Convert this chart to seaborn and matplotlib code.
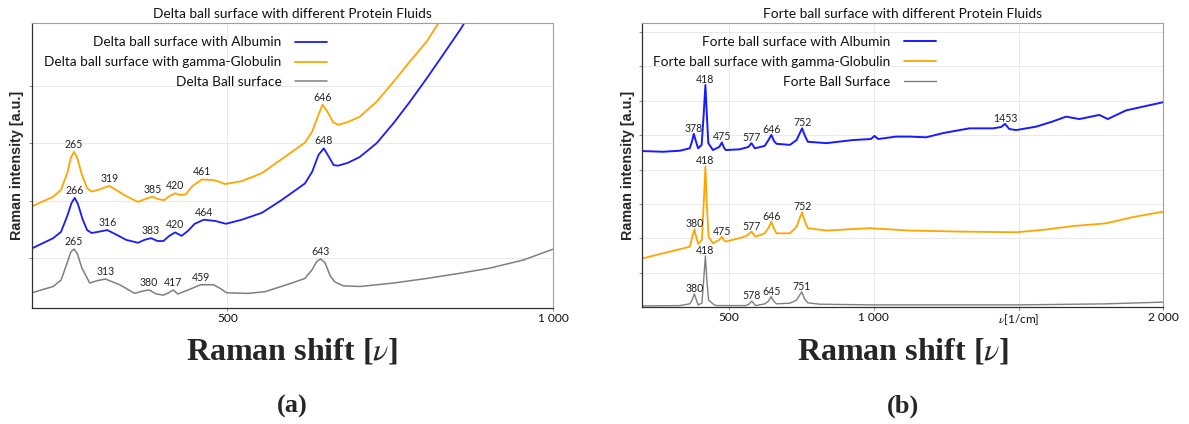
import numpy as np
import matplotlib
matplotlib.use("Agg")
import matplotlib.pyplot as plt
import seaborn as sns

# ---------------- Panel (a): Delta ball surface ----------------
delta_gg_x = [200, 233, 245, 255, 260, 265, 270, 277, 285, 292, 305, 319, 332, 345, 363, 374, 385, 394,
              403, 411, 420, 428, 436, 447, 461, 478, 488, 496, 522, 553, 583, 619, 630, 638, 646, 654,
              662, 670, 685, 703, 729, 755, 780, 806, 824, 840]
delta_gg_y = [1.90, 2.07, 2.19, 2.50, 2.75, 2.85, 2.74, 2.45, 2.22, 2.16, 2.20, 2.26, 2.17, 2.08, 1.98, 2.03,
              2.07, 2.03, 2.01, 2.08, 2.13, 2.10, 2.11, 2.26, 2.37, 2.36, 2.33, 2.29, 2.34, 2.48, 2.72, 3.01,
              3.20, 3.44, 3.67, 3.54, 3.37, 3.32, 3.37, 3.46, 3.72, 4.07, 4.42, 4.77, 5.09, 5.42]

delta_alb_x = [200, 233, 245, 255, 261, 266, 271, 278, 285, 292, 302, 316, 330, 345, 363, 373, 383, 393,
               402, 411, 420, 430, 440, 450, 464, 481, 498, 522, 553, 583, 619, 630, 640, 648, 656, 663,
               670, 685, 703, 729, 755, 780, 806, 831, 857, 875]
delta_alb_y = [1.17, 1.35, 1.46, 1.75, 1.96, 2.05, 1.94, 1.68, 1.49, 1.44, 1.46, 1.49, 1.41, 1.32, 1.27, 1.32,
               1.35, 1.30, 1.30, 1.39, 1.45, 1.39, 1.48, 1.60, 1.67, 1.65, 1.60, 1.67, 1.79, 2.01, 2.30, 2.50,
               2.80, 2.91, 2.76, 2.62, 2.61, 2.66, 2.76, 3.00, 3.35, 3.72, 4.13, 4.54, 4.97, 5.30]

delta_bare_x = [200, 233, 245, 255, 260, 265, 270, 277, 289, 300, 313, 335, 358, 370, 380, 391, 402, 410,
                417, 424, 440, 459, 479, 490, 499, 532, 558, 599, 619, 630, 637, 643, 650, 658, 665, 678,
                704, 755, 806, 857, 903, 954, 1000]
delta_bare_y = [0.40, 0.51, 0.62, 0.94, 1.11, 1.16, 1.08, 0.83, 0.57, 0.61, 0.64, 0.54, 0.39, 0.43, 0.45, 0.38,
                0.36, 0.40, 0.45, 0.38, 0.45, 0.54, 0.54, 0.47, 0.40, 0.39, 0.42, 0.57, 0.65, 0.80, 0.94, 0.99,
                0.92, 0.69, 0.59, 0.52, 0.51, 0.57, 0.65, 0.74, 0.83, 0.97, 1.16]

delta_gg_peaks = [265, 319, 385, 420, 461, 646]
delta_alb_peaks = [266, 316, 383, 420, 464, 648]
delta_bare_peaks = [265, 313, 380, 417, 459, 643]

# ---------------- Panel (b): Forte ball surface ----------------
forte_alb_x = [200, 272, 330, 364, 371, 378, 386, 393, 405, 412, 418, 423, 428, 444, 466, 475, 481, 488,
               536, 567, 577, 589, 623, 636, 646, 655, 664, 710, 733, 743, 752, 762, 772, 836, 928, 990,
               1002, 1015, 1077, 1123, 1181, 1238, 1330, 1411, 1440, 1453, 1468, 1492, 1561, 1618, 1664,
               1710, 1779, 1808, 1871, 1940, 2000]
forte_alb_y = [4.54, 4.52, 4.55, 4.62, 4.80, 5.04, 4.80, 4.62, 4.72, 5.59, 6.46, 5.59, 4.77, 4.57, 4.66, 4.79,
               4.66, 4.57, 4.59, 4.66, 4.77, 4.62, 4.69, 4.86, 5.01, 4.83, 4.75, 4.72, 4.86, 5.04, 5.20, 4.98,
               4.81, 4.77, 4.86, 4.89, 4.98, 4.89, 4.96, 4.96, 4.94, 5.06, 5.20, 5.20, 5.24, 5.33, 5.18, 5.15,
               5.25, 5.40, 5.54, 5.47, 5.59, 5.47, 5.72, 5.85, 5.96]

forte_gg_x = [200, 272, 330, 364, 372, 380, 387, 393, 406, 412, 418, 423, 429, 444, 466, 475, 481, 488,
              536, 559, 577, 591, 623, 636, 646, 655, 664, 710, 733, 743, 752, 762, 772, 836, 985, 1123,
              1296, 1492, 1584, 1687, 1802, 1894, 2000]
forte_gg_y = [1.42, 1.57, 1.69, 1.76, 2.02, 2.27, 2.02, 1.84, 1.96, 2.97, 4.09, 2.97, 2.05, 1.86, 1.96, 2.05,
              1.96, 1.91, 2.01, 2.07, 2.20, 2.05, 2.15, 2.31, 2.49, 2.28, 2.15, 2.15, 2.34, 2.57, 2.76, 2.48,
              2.30, 2.23, 2.30, 2.23, 2.20, 2.18, 2.25, 2.36, 2.44, 2.62, 2.78]

forte_bare_x = [200, 330, 364, 372, 380, 387, 393, 406, 412, 418, 423, 429, 444, 455, 559, 570, 578, 586,
                591, 623, 636, 645, 654, 664, 710, 733, 742, 751, 761, 772, 813, 1000, 1500, 1800, 2000]
forte_bare_y = [0.04, 0.05, 0.10, 0.21, 0.39, 0.21, 0.07, 0.12, 0.79, 1.49, 0.79, 0.21, 0.10, 0.05, 0.05, 0.10,
                0.18, 0.10, 0.05, 0.10, 0.18, 0.31, 0.18, 0.10, 0.12, 0.21, 0.33, 0.45, 0.24, 0.13, 0.09, 0.07,
                0.07, 0.10, 0.15]

forte_alb_peaks = [378, 418, 475, 577, 646, 752, 1453]
forte_gg_peaks = [380, 418, 475, 577, 646, 752]
forte_bare_peaks = [380, 418, 578, 645, 751]

BLUE = "#1a1aff"
ORANGE = "#ffa500"
GRAY = "#7f7f7f"

sns.set_theme(style="whitegrid")
plt.rcParams["font.family"] = ["Lato", "DejaVu Sans"]
plt.rcParams["mathtext.fontset"] = "stix"

W, H = 1189, 424
fig = plt.figure(figsize=(W / 100, H / 100), dpi=100)
fig.patch.set_facecolor("white")


def px_axes(l, t, r, b):
    return fig.add_axes([l / W, 1 - b / H, (r - l) / W, (b - t) / H])


ax_a = px_axes(31.7, 23, 553.3, 308)
ax_b = px_axes(642.3, 22.7, 1163.3, 307.3)


def draw_panel(ax, series, title, xlim, ylim, yticks, xticks, xticklabels, leg_x, label_off):
    for x, y, color, label, peaks, w in series:
        sns.lineplot(x=x, y=y, ax=ax, color=color, label=label, linewidth=w, sort=False)
        for p in peaks:
            yy = np.interp(p, x, y)
            ax.annotate(str(p), xy=(p, yy), xytext=(0, label_off), textcoords="offset points",
                        ha="center", va="baseline", fontsize=7.6, color="#222222")
    ax.set_xlim(*xlim)
    ax.set_ylim(*ylim)
    ax.set_yticks(yticks)
    ax.set_yticklabels([])
    ax.set_xticks(xticks)
    ax.set_xticklabels(xticklabels, fontsize=8.6)
    ax.set_xlabel("")
    ax.set_ylabel("Raman intensity [a.u.]", family="Liberation Sans", fontweight="bold",
                  fontsize=10.4, labelpad=3)
    ax.set_title(title, fontsize=9.9, pad=3.5, color="#111111")
    ax.grid(True, color="#e9e9e9", linewidth=0.7)
    ax.set_facecolor("white")
    for side in ("top", "right"):
        ax.spines[side].set_color("#a0a0a0")
        ax.spines[side].set_linewidth(0.8)
    for side in ("left", "bottom"):
        ax.spines[side].set_color("#303030")
        ax.spines[side].set_linewidth(0.9)
    ax.tick_params(axis="y", which="both", left=True, direction="out", length=2.5, width=0.6,
                   color="#777777", pad=0)
    ax.tick_params(axis="x", which="both", bottom=True, direction="out", length=2, width=0.6,
                   color="#777777", pad=1.5, labelcolor="#111111")
    handles, labels = ax.get_legend_handles_labels()
    leg = ax.legend(handles, labels, loc="upper right", bbox_to_anchor=(leg_x, 0.953),
                    frameon=False, markerfirst=False, fontsize=9.8, handlelength=2.35,
                    handletextpad=0.98, labelspacing=0.58, borderaxespad=0, borderpad=0)
    for t in leg.get_texts():
        t.set_color("#111111")
    return ax


draw_panel(
    ax_a,
    [
        (delta_alb_x, delta_alb_y, BLUE, "Delta ball surface with Albumin", delta_alb_peaks, 1.3),
        (delta_gg_x, delta_gg_y, ORANGE, "Delta ball surface with gamma-Globulin", delta_gg_peaks, 1.3),
        (delta_bare_x, delta_bare_y, GRAY, "Delta Ball surface", delta_bare_peaks, 1.1),
    ],
    "Delta ball surface with different Protein Fluids",
    (200, 1000), (0.136, 5.09), [1, 2, 3, 4],
    [500, 1000], ["500", "1 000"], 0.5656, 3.0,
)

draw_panel(
    ax_b,
    [
        (forte_alb_x, forte_alb_y, BLUE, "Forte ball surface with Albumin", forte_alb_peaks, 1.4),
        (forte_gg_x, forte_gg_y, ORANGE, "Forte ball surface with gamma-Globulin", forte_gg_peaks, 1.3),
        (forte_bare_x, forte_bare_y, GRAY, "Forte Ball Surface", forte_bare_peaks, 1.0),
    ],
    "Forte ball surface with different Protein Fluids",
    (200, 2000), (0, 8.27), [1, 2, 3, 4, 5, 6, 7, 8],
    [500, 1000, 1500, 2000], ["500", "1 000", r"$\nu$[1/cm]", "2 000"], 0.5637, 1.5,
)

# Shared x-axis captions and sub-figure letters below each panel
for cx, letter in ((292, "a"), (903, "b")):
    fig.text(cx / W, 1 - 352 / H, r"Raman shift [$\nu$]", ha="center", va="center",
             family="Liberation Serif", fontweight="bold", fontsize=23)
    fig.text(cx / W, 1 - 406 / H, "(" + letter + ")", ha="center", va="center",
             family="Liberation Serif", fontweight="bold", fontsize=19)

fig.savefig("out.png", dpi=100, facecolor="white")
